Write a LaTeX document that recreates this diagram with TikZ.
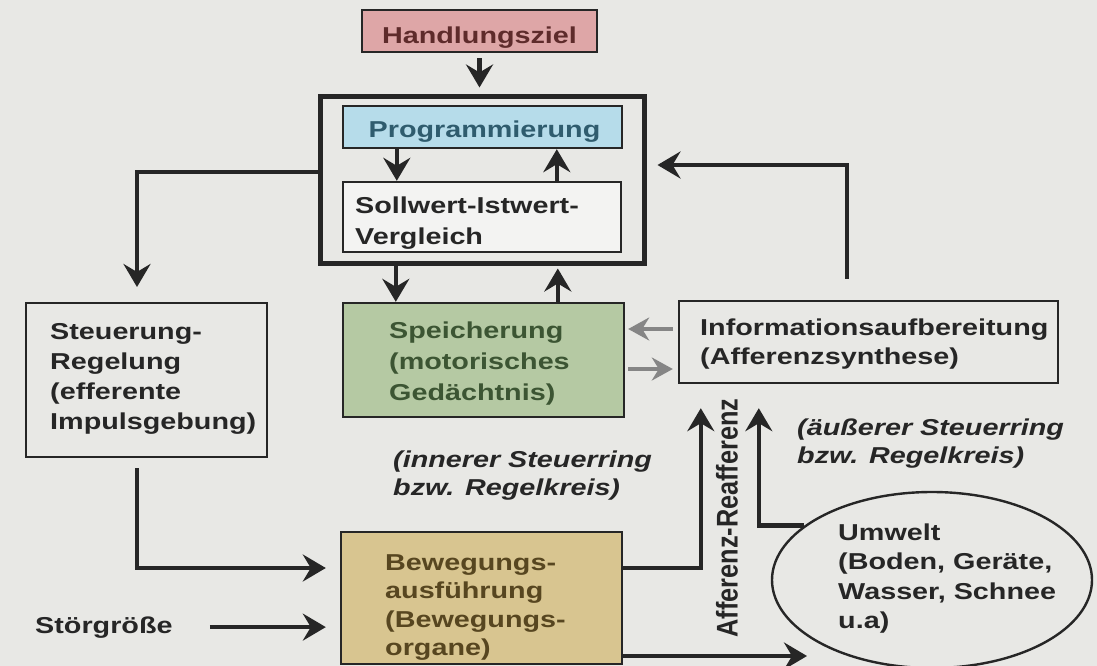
\documentclass[tikz,border=0pt]{standalone}
\usepackage{fontspec}
\newfontfamily\lblfont{Liberation Sans}[FakeStretch=1.25]
\newfontfamily\upfont{Liberation Sans}
\usetikzlibrary{arrows.meta,shapes.geometric,calc}

\definecolor{paper}{HTML}{E8E8E5}
\definecolor{ink}{HTML}{262626}
\definecolor{shade}{HTML}{858585}
\definecolor{goalfill}{HTML}{DEA6A7}
\definecolor{goalink}{HTML}{5E2B2B}
\definecolor{progfill}{HTML}{B6DCEA}
\definecolor{progink}{HTML}{2F5C6E}
\definecolor{memfill}{HTML}{B5C9A3}
\definecolor{memink}{HTML}{3C5533}
\definecolor{movefill}{HTML}{D8C590}
\definecolor{moveink}{HTML}{574620}

% several lines, baseline of the node = baseline of the first line
\newcommand\txtlines[1]{\begin{tabular}[t]{@{}l@{}}#1\end{tabular}}

\begin{document}
\begin{tikzpicture}[x=1pt,y=-1pt,
  box/.style={draw=ink, line width=2.4pt, inner sep=0pt, rectangle},
  lbl/.style={inner sep=0pt, text=ink, font=\lblfont\bfseries\fontsize{23}{#1}\selectfont},
  lbl/.default=30,
  note/.style={inner sep=0pt, text=ink, font=\lblfont\bfseries\itshape\fontsize{23}{#1}\selectfont},
  note/.default=28,
  arr/.style={draw=ink, line width=4.5pt, -{Stealth[length=23pt,width=27pt,inset=8pt]}},
  garr/.style={draw=shade, line width=4pt, -{Stealth[length=21pt,width=23pt,inset=7pt]}},
]
\fill[paper] (0,0) rectangle (1097,666);
\useasboundingbox (0,0) rectangle (1097,666);

% ---- boxes ----
\node[box, fill=goalfill, minimum width=235pt, minimum height=42pt] (goal) at (479.5,31) {};
\node[box, line width=5pt, minimum width=324pt, minimum height=166pt] (frame) at (482,180) {};
\node[box, fill=progfill, minimum width=279pt, minimum height=42pt] (prog) at (482.5,127) {};
\node[box, fill=white!50!paper, minimum width=278pt, minimum height=70pt] (soll) at (482,217) {};
\node[box, line width=2pt, minimum width=241pt, minimum height=154pt] (steuer) at (146.5,380) {};
\node[box, fill=memfill, minimum width=281pt, minimum height=114pt] (speich) at (483.5,360) {};
\node[box, minimum width=379pt, minimum height=82pt] (info) at (868.5,342) {};
\node[box, fill=movefill, minimum width=281pt, minimum height=132pt] (bew) at (481.5,598) {};
\node[draw=ink, line width=2.4pt, ellipse, inner sep=0pt, minimum width=320pt, minimum height=176pt] (umw) at (932,580) {};

% ---- texts ----
\node[lbl, text=goalink, anchor=base] (goal-t) at (479.5,44) {Handlungsziel};
\node[lbl, text=progink, anchor=base] (prog-t) at (484.5,138) {Programmierung};
\node[lbl=31, anchor=base west] (soll-t) at (355,213) {\txtlines{Sollwert-Istwert-\\Vergleich}};
\node[lbl=30.3, anchor=base west] (steuer-t) at (50,339) {\txtlines{Steuerung-\\Regelung\\(efferente\\Impulsgebung)}};
\node[lbl=31, text=memink, anchor=base west] (speich-t) at (389,338) {\txtlines{Speicherung\\(motorisches\\Gedächtnis)}};
\node[lbl=29, anchor=base west] (info-t) at (700,335) {\txtlines{Informationsaufbereitung\\(Afferenzsynthese)}};
\node[lbl=28.5, text=moveink, anchor=base west] (bew-t) at (385,570) {\txtlines{Bewegungs-\\ausführung\\(Bewegungs-\\organe)}};
\node[lbl=29.5, anchor=base west] (umw-t) at (838,540) {\txtlines{Umwelt\\(Boden, Geräte,\\Wasser, Schnee\\u.a)}};
\node[lbl, anchor=base west] (stoer) at (35,633) {Störgröße};
\node[note, anchor=base west] (inner) at (393,467) {\txtlines{(innerer Steuerring\\bzw. Regelkreis)}};
\node[note, anchor=base west] (outer) at (797,435) {\txtlines{(äußerer Steuerring\\bzw. Regelkreis)}};
\node[inner sep=0pt, text=ink, rotate=90] (aff) at (727,518)
  {\scalebox{1.1}[1.3]{\upfont\bfseries\fontsize{23}{28}\selectfont Afferenz-Reafferenz}};

% ---- connectors ----
\draw[arr, shorten <=5pt, shorten >=7pt] (goal.south) -- (goal.south |- frame.north);
\draw[arr] ([xshift=55pt]prog.south west) -- ([xshift=55pt]soll.north west);
\draw[arr] ([xshift=215pt]soll.north west) -- ([xshift=215pt]prog.south west);

\coordinate (sp-in) at ([xshift=54pt]speich.north west);
\coordinate (sp-out) at ([xshift=216pt]speich.north west);
\draw[arr] (sp-in |- frame.south) -- (sp-in);
\draw[arr, shorten >=3pt] (sp-out) -- (sp-out |- frame.south);

\coordinate (fr-out) at ([yshift=8pt]frame.west);
\draw[arr, shorten >=15pt] (fr-out) -| ([xshift=-9.5pt]steuer.north);
\draw[arr, shorten <=10pt, shorten >=14pt] ([xshift=-9.5pt]steuer.south) |- ([yshift=30pt]bew.west);
\draw[arr, shorten <=37pt, shorten >=14pt] (stoer.east) -- (stoer.east -| bew.west);

\draw[arr, shorten >=24pt] ([yshift=30pt]bew.east) -| ([xshift=23pt]info.south west);
\draw[arr, shorten >=24pt] (umw.157) -| ([xshift=81pt]info.south west);
\coordinate (env-in) at (807,656);
\draw[arr] (bew.east |- env-in) -- (env-in);

\coordinate (fr-in) at ([yshift=15pt]frame.east);
\draw[arr, shorten <=21pt, shorten >=11pt] ([xshift=169pt]info.north west) |- (fr-in);

\coordinate (g-back) at ([yshift=13pt]info.west);
\coordinate (g-fwd) at ([yshift=-27pt]info.west);
\draw[garr, shorten <=5pt, shorten >=3pt] (g-back) -- (g-back -| speich.east);
\draw[garr, shorten <=3pt, shorten >=5pt] (g-fwd -| speich.east) -- (g-fwd);
\end{tikzpicture}
\end{document}
